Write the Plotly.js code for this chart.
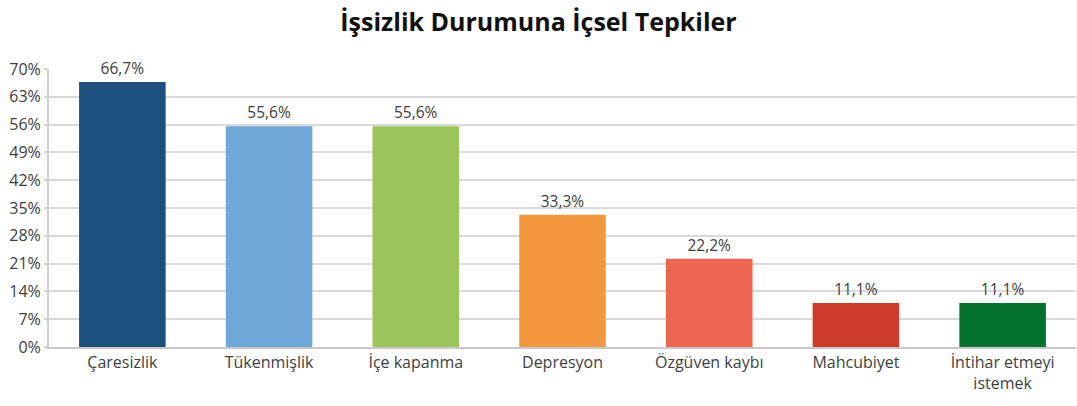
<!DOCTYPE html>
<html>
<head>
<meta charset="utf-8">
<script src="https://cdn.plot.ly/plotly-3.0.1.min.js"></script>
<style>html,body{margin:0;padding:0;background:#fff;}#chart{width:1077px;height:406px;}</style>
</head>
<body>
<div id="chart"></div>
<script>
const categories = ["Çaresizlik", "Tükenmişlik", "İçe kapanma", "Depresyon", "Özgüven kaybı", "Mahcubiyet", "İntihar etmeyi<br>istemek"];
const values = [66.7, 55.6, 55.6, 33.3, 22.2, 11.1, 11.1];
const colors = ["#1d4f7c", "#6ea6d5", "#9bc45b", "#f3983f", "#ee6651", "#cc3a2b", "#03722f"];
const yTicks = [0, 7, 14, 21, 28, 35, 42, 49, 56, 63, 70];

const trace = {
  type: "bar",
  x: categories,
  y: values,
  marker: {color: colors},
  texttemplate: "%{y:.1f}%",
  textposition: "outside",
  cliponaxis: false,
  textfont: {family: "Open Sans, sans-serif", size: 15.5, color: "#404040"},
  hoverinfo: "none"
};

const layout = {
  width: 1077, height: 406,
  separators: ",.",
  margin: {l: 49, r: 1, t: 69, b: 59},
  paper_bgcolor: "#fff", plot_bgcolor: "#fff",
  bargap: 0.41,
  showlegend: false,
  title: {text: "<b>İşsizlik Durumuna İçsel Tepkiler</b>", x: 0.5, xanchor: "center", y: 0.945, yanchor: "middle",
          font: {family: "Open Sans, sans-serif", size: 25, color: "#111"}},
  xaxis: {
    tickfont: {family: "Open Sans, sans-serif", size: 16, color: "#404040"},
    showline: true, linecolor: "#c8c8c8", linewidth: 2,
    ticks: "", showgrid: false
  },
  yaxis: {
    range: [0, 70], tickvals: yTicks, ticktext: yTicks.map(v => v + "%"),
    tickfont: {family: "Open Sans, sans-serif", size: 16, color: "#404040"},
    showgrid: true, gridcolor: "#d9d9d9", gridwidth: 2,
    showline: true, linecolor: "#d0d0d0", linewidth: 2,
    ticks: "outside", ticklen: 3, tickcolor: "#d0d0d0", tickwidth: 2,
    zeroline: false
  }
};

Plotly.newPlot("chart", [trace], layout, {staticPlot: true});
</script>
</body>
</html>
